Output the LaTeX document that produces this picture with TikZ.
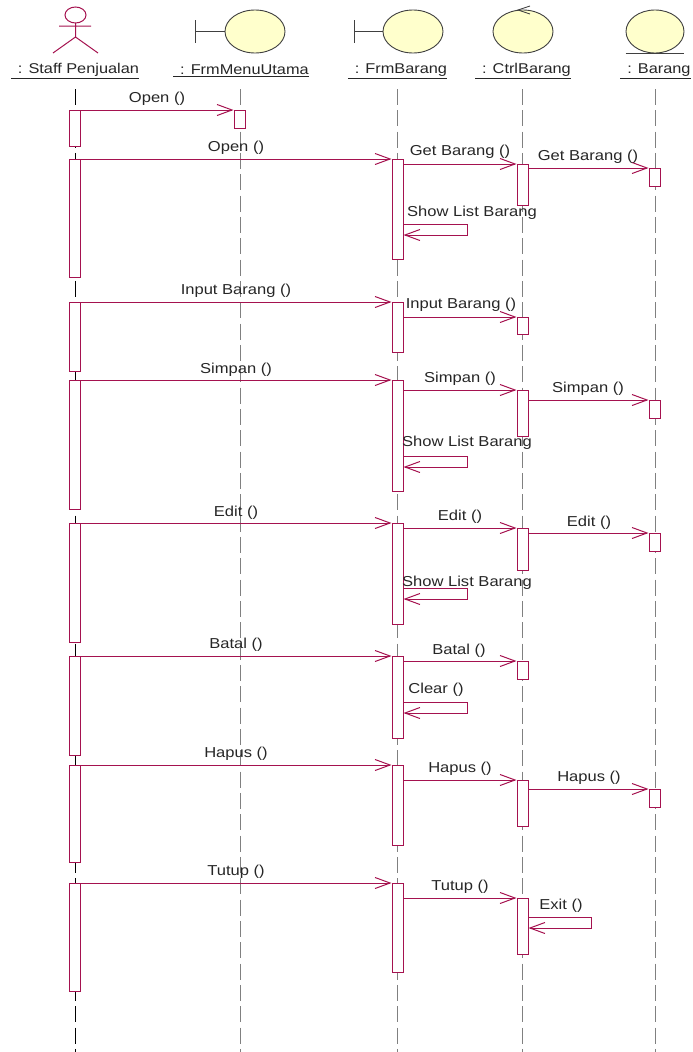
\documentclass[tikz,border=0pt]{standalone}
\usepackage{fontspec}
\setmainfont[FakeStretch=1.15]{Liberation Sans}
\usetikzlibrary{arrows.meta,shapes.geometric}
\definecolor{umlred}{HTML}{A5124F}
\definecolor{umlfill}{HTML}{FFFFCC}
\tikzset{
  lifeline/.style={draw=black!50,line width=1.5pt,dash pattern=on 16pt off 5.33pt},
  active/.style={draw=umlred,fill=white,line width=1pt,minimum width=11pt,inner sep=0pt,anchor=north},
  msg/.style={draw=umlred,line width=1pt,-{Straight Barb[length=15pt,width=11pt,line width=1pt]}},
  msgtxt/.style={font=\fontsize{14.4}{16}\selectfont,text=black!85,inner sep=0pt,yshift=-1.5pt},
  objtxt/.style={font=\fontsize{14.2}{16}\selectfont,text=black!85,inner sep=0pt},
  robust/.style={draw=black!75,fill=umlfill,line width=0.9pt,ellipse,minimum width=60pt,minimum height=43pt,inner sep=0pt},
}
\begin{document}
\begin{tikzpicture}[x=1pt,y=-1pt]
\useasboundingbox (0,0) rectangle (693,1052);
% actor
\draw[umlred,line width=1pt] (75.5,15) ellipse (10.5 and 8);
\draw[umlred,line width=1pt] (59,26)--(91,26) (75.5,23)--(75.5,37) (53,53)--(75.5,37)--(98,53);
% class icons
\node[robust] (IM) at (255,31.5) {};
\node[robust] (IF) at (413,31.5) {};
\node[robust] (IC) at (523,31.5) {};
\node[robust,minimum width=58pt] (IB) at (655,31.5) {};
\draw[black!75,line width=0.9pt] (195,20)--(195,43) (195,0 |- IM.west)--(IM.west);
\draw[black!75,line width=0.9pt] (354,20)--(354,43) (354,0 |- IF.west)--(IF.west);
\draw[black!75,line width=0.9pt] (530,6)--(518,10)--(530,14);
\draw[black!75,line width=0.9pt] (IB.west |- IB.south)--(IB.east |- IB.south);
% names
\node[objtxt] (NS) at (75,71) {\underline{\ \,: Staff Penjualan}};
\node[objtxt] (NM) at (241,71) {\underline{\ \,: FrmMenuUtama}};
\node[objtxt] (NF) at (397.5,71) {\underline{\ \,: FrmBarang}};
\node[objtxt] (NC) at (523,71) {\underline{\ \,: CtrlBarang}};
\node[objtxt] (NB) at (655.5,71) {\underline{\ \,: Barang}};
% lifelines
\coordinate (S0) at (75.3,89);
\coordinate (M0) at (240.5,89);
\coordinate (F0) at (397.5,89);
\coordinate (C0) at (522.5,89);
\coordinate (B0) at (655.5,89);
\coordinate (S9) at (75.3,1052);
\coordinate (M9) at (240.5,1052);
\coordinate (F9) at (397.5,1052);
\coordinate (C9) at (522.5,1052);
\coordinate (B9) at (655.5,1052);
\draw[lifeline,draw=black,line width=0.9pt] (S0)--(S9);
\draw[lifeline] (M0)--(M9);
\draw[lifeline] (F0)--(F9);
\draw[lifeline] (C0)--(C9);
\draw[lifeline] (B0)--(B9);
% activations
\node[active,minimum height=36pt] (S1) at (74.5,110) {};
\node[active,minimum height=118pt] (S2) at (74.5,159) {};
\node[active,minimum height=69pt] (S3) at (74.5,302) {};
\node[active,minimum height=129pt] (S4) at (74.5,380) {};
\node[active,minimum height=119pt] (S5) at (74.5,523) {};
\node[active,minimum height=99pt] (S6) at (74.5,656) {};
\node[active,minimum height=97pt] (S7) at (74.5,765) {};
\node[active,minimum height=108pt] (S8) at (74.5,883) {};
\node[active,minimum height=18pt] (M1) at (239.5,110) {};
\node[active,minimum height=100pt] (F1) at (397.5,159) {};
\node[active,minimum height=50pt] (F2) at (397.5,302) {};
\node[active,minimum height=111pt] (F3) at (397.5,380) {};
\node[active,minimum height=101pt] (F4) at (397.5,523) {};
\node[active,minimum height=82pt] (F5) at (397.5,656) {};
\node[active,minimum height=80pt] (F6) at (397.5,765) {};
\node[active,minimum height=89pt] (F7) at (397.5,883) {};
\node[active,minimum height=41pt] (C1) at (522.5,164) {};
\node[active,minimum height=17pt] (C2) at (522.5,317) {};
\node[active,minimum height=46pt] (C3) at (522.5,390) {};
\node[active,minimum height=42pt] (C4) at (522.5,528) {};
\node[active,minimum height=18pt] (C5) at (522.5,661) {};
\node[active,minimum height=46pt] (C6) at (522.5,780) {};
\node[active,minimum height=56pt] (C7) at (522.5,898) {};
\node[active,minimum height=18pt] (B1) at (654.5,168) {};
\node[active,minimum height=18pt] (B2) at (654.5,400) {};
\node[active,minimum height=18pt] (B3) at (654.5,533) {};
\node[active,minimum height=18pt] (B4) at (654.5,789) {};
% calls
\draw[msg] (S1.north east)--(M1.north west);
\draw[msg] (S2.north east)--(F1.north west);
\draw[msg] (S3.north east)--(F2.north west);
\draw[msg] (S4.north east)--(F3.north west);
\draw[msg] (S5.north east)--(F4.north west);
\draw[msg] (S6.north east)--(F5.north west);
\draw[msg] (S7.north east)--(F6.north west);
\draw[msg] (S8.north east)--(F7.north west);
\draw[msg] (F1.east |- C1.north)--(C1.north west);
\draw[msg] (F2.east |- C2.north)--(C2.north west);
\draw[msg] (F3.east |- C3.north)--(C3.north west);
\draw[msg] (F4.east |- C4.north)--(C4.north west);
\draw[msg] (F5.east |- C5.north)--(C5.north west);
\draw[msg] (F6.east |- C6.north)--(C6.north west);
\draw[msg] (F7.east |- C7.north)--(C7.north west);
\draw[msg] (C1.east |- B1.north)--(B1.north west);
\draw[msg] (C3.east |- B2.north)--(B2.north west);
\draw[msg] (C4.east |- B3.north)--(B3.north west);
\draw[msg] (C6.east |- B4.north)--(B4.north west);
% self calls
\draw[msg] (F1.east |- 0,224)--(467,224)--(467,235)--(F1.east |- 0,235);
\draw[msg] (F3.east |- 0,456)--(467,456)--(467,467)--(F3.east |- 0,467);
\draw[msg] (F4.east |- 0,588)--(467,588)--(467,599)--(F4.east |- 0,599);
\draw[msg] (F5.east |- 0,702)--(467,702)--(467,713)--(F5.east |- 0,713);
\draw[msg] (C7.east |- 0,917)--(591,917)--(591,928)--(C7.east |- 0,928);
% labels
\node[msgtxt] (L1) at (157,97) {Open ()};
\node[msgtxt] (L2) at (236,146) {Open ()};
\node[msgtxt] (L3) at (460,150) {Get Barang ()};
\node[msgtxt] (L4) at (588,155) {Get Barang ()};
\node[msgtxt] (L5) at (472,211) {Show List Barang};
\node[msgtxt] (L6) at (236,289) {Input Barang ()};
\node[msgtxt] (L7) at (461,303) {Input Barang ()};
\node[msgtxt] (L8) at (236,368) {Simpan ()};
\node[msgtxt] (L9) at (460,377) {Simpan ()};
\node[msgtxt] (L10) at (588,387) {Simpan ()};
\node[msgtxt] (L11) at (467,441) {Show List Barang};
\node[msgtxt] (L12) at (236,511) {Edit ()};
\node[msgtxt] (L13) at (460,515) {Edit ()};
\node[msgtxt] (L14) at (589,521) {Edit ()};
\node[msgtxt] (L15) at (467,581) {Show List Barang};
\node[msgtxt] (L16) at (236,643) {Batal ()};
\node[msgtxt] (L17) at (459,649) {Batal ()};
\node[msgtxt] (L18) at (436,688) {Clear ()};
\node[msgtxt] (L19) at (236,752) {Hapus ()};
\node[msgtxt] (L20) at (460,767) {Hapus ()};
\node[msgtxt] (L21) at (589,776) {Hapus ()};
\node[msgtxt] (L22) at (236,870) {Tutup ()};
\node[msgtxt] (L23) at (460,885) {Tutup ()};
\node[msgtxt] (L24) at (561,904) {Exit ()};
\end{tikzpicture}
\end{document}
